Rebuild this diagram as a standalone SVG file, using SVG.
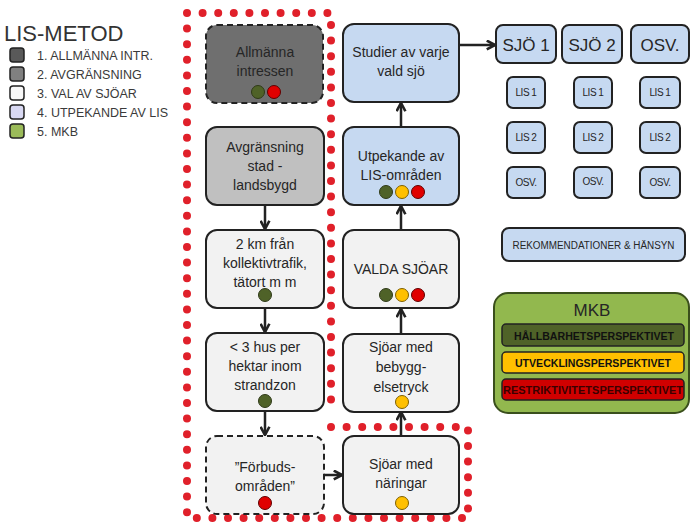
<svg xmlns="http://www.w3.org/2000/svg" width="691" height="522" viewBox="0 0 691 522">
<defs>
<style>
text{font-family:"Liberation Sans",Arial,sans-serif;fill:#262626}
.t{font-size:14px;text-anchor:middle}
.box{stroke:#222;stroke-width:2}
.dash{stroke-dasharray:6 4}
.blue{fill:#c6d9f1}
.light{fill:#f2f2f2}
.sm{font-size:10px;text-anchor:middle;letter-spacing:-0.5px}
.g{fill:#4f6228;stroke:#2f3a18;stroke-width:1}
.y{fill:#ffc000;stroke:#7f6000;stroke-width:1}
.r{fill:#e00000;stroke:#600000;stroke-width:1}
.conn{stroke:#222;stroke-width:2.5;fill:none;marker-end:url(#ah)}
.leg{font-size:12.5px;fill:#3a3a3a}
.lsq{stroke:#222;stroke-width:1.5}
.bar{font-size:11px;font-weight:bold;text-anchor:middle}
</style>
<marker id="ah" viewBox="0 0 10 10" refX="8.5" refY="5" markerWidth="4.4" markerHeight="4.4" orient="auto" markerUnits="strokeWidth">
<path d="M1,1 L8.5,5 L1,9" fill="none" stroke="#222" stroke-width="2.4"/>
</marker>
</defs>
<rect width="691" height="522" fill="#fff"/>

<g id="legend">
<text x="4" y="41" style="font-size:22px;fill:#333">LIS-METOD</text>
<rect class="lsq" x="10" y="48" width="14" height="14" rx="3" fill="#595959"/>
<text class="leg" x="37" y="60">1. ALLMÄNNA INTR.</text>
<rect class="lsq" x="10" y="67" width="14" height="14" rx="3" fill="#808080"/>
<text class="leg" x="37" y="79">2. AVGRÄNSNING</text>
<rect class="lsq" x="10" y="86" width="14" height="14" rx="3" fill="#f7f7f7"/>
<text class="leg" x="37" y="98">3. VAL AV SJÖAR</text>
<rect class="lsq" x="10" y="105" width="14" height="14" rx="3" fill="#d9d9f3"/>
<text class="leg" x="37" y="117">4. UTPEKANDE AV LIS</text>
<rect class="lsq" x="10" y="124" width="14" height="14" rx="3" fill="#9bbb59"/>
<text class="leg" x="37" y="136">5. MKB</text>
</g>

<g id="boundary" fill="none" stroke="#e0202a" stroke-width="8" stroke-linecap="round" stroke-dasharray="0 15.6">
<path d="M187,13 L331,13 L331,412"/>
<path d="M331,427 L468,427 L468,518 L187,518 L187,13"/>
</g>

<g id="connectors">
<line class="conn" x1="265" y1="205" x2="265" y2="229"/>
<line class="conn" x1="265" y1="308" x2="265" y2="332"/>
<line class="conn" x1="265" y1="411" x2="265" y2="435"/>
<line class="conn" x1="324" y1="475" x2="342" y2="475"/>
<line class="conn" x1="401" y1="436" x2="401" y2="412"/>
<line class="conn" x1="401" y1="334" x2="401" y2="309"/>
<line class="conn" x1="401" y1="230" x2="401" y2="206"/>
<line class="conn" x1="401" y1="127" x2="401" y2="103"/>
<line class="conn" x1="459" y1="45" x2="495" y2="45"/>
</g>

<g id="n-allmanna">
<rect class="box dash" x="206" y="25" width="117" height="78" rx="11" fill="#6f6f6f"/>
<text class="t" x="265" y="57">Allmänna</text>
<text class="t" x="265" y="76">intressen</text>
<circle class="g" cx="258" cy="92" r="6.5"/><circle class="r" cx="274" cy="92" r="6.5"/>
</g>
<g id="n-avgransning">
<rect class="box" x="206" y="127" width="118" height="78" rx="11" fill="#c0c0c0"/>
<text class="t" x="265" y="152">Avgränsning</text>
<text class="t" x="265" y="171">stad -</text>
<text class="t" x="265" y="190">landsbygd</text>
</g>
<g id="n-2km">
<rect class="box light" x="206" y="230" width="118" height="78" rx="11"/>
<text class="t" x="265" y="249">2 km från</text>
<text class="t" x="265" y="268">kollektivtrafik,</text>
<text class="t" x="265" y="287">tätort m m</text>
<circle class="g" cx="265" cy="295" r="6.5"/>
</g>
<g id="n-3hus">
<rect class="box light" x="206" y="333" width="118" height="78" rx="11"/>
<text class="t" x="265" y="352">&lt; 3 hus per</text>
<text class="t" x="265" y="371">hektar inom</text>
<text class="t" x="265" y="390">strandzon</text>
<circle class="g" cx="265" cy="401" r="6.5"/>
</g>
<g id="n-forbuds">
<rect class="box dash light" x="206" y="436" width="118" height="78" rx="11"/>
<text class="t" x="265" y="472">”Förbuds-</text>
<text class="t" x="265" y="491">områden”</text>
<circle class="r" cx="265" cy="503" r="6.5"/>
</g>

<g id="n-studier">
<rect class="box blue" x="343" y="24" width="116" height="78" rx="11"/>
<text class="t" x="401" y="57">Studier av varje</text>
<text class="t" x="401" y="76">vald sjö</text>
</g>
<g id="n-utpekande">
<rect class="box blue" x="343" y="127" width="116" height="78" rx="11"/>
<text class="t" x="401" y="161">Utpekande av</text>
<text class="t" x="401" y="180">LIS-områden</text>
<circle class="g" cx="386" cy="192" r="6.5"/><circle class="y" cx="402" cy="192" r="6.5"/><circle class="r" cx="418" cy="192" r="6.5"/>
</g>
<g id="n-valda">
<rect class="box light" x="343" y="230" width="116" height="78" rx="11"/>
<text class="t" x="401" y="274">VALDA SJÖAR</text>
<circle class="g" cx="386" cy="295" r="6.5"/><circle class="y" cx="402" cy="295" r="6.5"/><circle class="r" cx="418" cy="295" r="6.5"/>
</g>
<g id="n-bebygg">
<rect class="box light" x="343" y="334" width="116" height="78" rx="11"/>
<text class="t" x="401" y="352">Sjöar med</text>
<text class="t" x="401" y="372">bebygg-</text>
<text class="t" x="401" y="392">elsetryck</text>
<circle class="y" cx="402" cy="402" r="6.5"/>
</g>
<g id="n-naringar">
<rect class="box light" x="343" y="436" width="116" height="78" rx="11"/>
<text class="t" x="401" y="469">Sjöar med</text>
<text class="t" x="401" y="488">näringar</text>
<circle class="y" cx="402" cy="503" r="6.5"/>
</g>

<g id="n-sjo1"><rect class="box blue" x="496" y="25" width="60" height="38" rx="7"/><text x="526" y="51" style="font-size:17px;text-anchor:middle">SJÖ 1</text></g>
<g id="n-sjo2"><rect class="box blue" x="562" y="25" width="60" height="38" rx="7"/><text x="592" y="51" style="font-size:17px;text-anchor:middle">SJÖ 2</text></g>
<g id="n-osv"><rect class="box blue" x="631" y="25" width="58" height="38" rx="7"/><text x="660" y="51" style="font-size:17px;text-anchor:middle">OSV.</text></g>

<g id="n-lis1a"><rect class="box blue" x="507" y="77" width="38" height="31" rx="6"/><text class="sm" x="526" y="96">LIS 1</text></g>
<g id="n-lis1b"><rect class="box blue" x="574" y="77" width="38" height="31" rx="6"/><text class="sm" x="593" y="96">LIS 1</text></g>
<g id="n-lis1c"><rect class="box blue" x="640" y="77" width="40" height="31" rx="6"/><text class="sm" x="660" y="96">LIS 1</text></g>
<g id="n-lis2a"><rect class="box blue" x="507" y="122" width="38" height="31" rx="6"/><text class="sm" x="526" y="141">LIS 2</text></g>
<g id="n-lis2b"><rect class="box blue" x="574" y="122" width="38" height="31" rx="6"/><text class="sm" x="593" y="141">LIS 2</text></g>
<g id="n-lis2c"><rect class="box blue" x="640" y="122" width="40" height="31" rx="6"/><text class="sm" x="660" y="141">LIS 2</text></g>
<g id="n-osva"><rect class="box blue" x="507" y="167" width="38" height="31" rx="6"/><text class="sm" x="526" y="186">OSV.</text></g>
<g id="n-osvb"><rect class="box blue" x="574" y="167" width="38" height="31" rx="6"/><text class="sm" x="593" y="185">OSV.</text></g>
<g id="n-osvc"><rect class="box blue" x="640" y="167" width="40" height="31" rx="6"/><text class="sm" x="660" y="186">OSV.</text></g>

<g id="n-rekommendationer">
<rect class="box blue" x="502" y="228" width="183" height="33" rx="7"/>
<text x="593.5" y="248.5" style="font-size:10px;text-anchor:middle" textLength="162" lengthAdjust="spacingAndGlyphs">REKOMMENDATIONER &amp; HÄNSYN</text>
</g>

<g id="n-mkb">
<rect x="494" y="293" width="195" height="120" rx="14" fill="#92b84e" stroke="#3a4f1c" stroke-width="2"/>
<text x="592" y="316" style="font-size:17px;text-anchor:middle">MKB</text>
<rect x="502" y="324" width="182" height="22" rx="4" fill="#4f6228" stroke="#222" stroke-width="1.5"/>
<text class="bar" x="594" y="340" textLength="160" lengthAdjust="spacingAndGlyphs" style="fill:#111">HÅLLBARHETSPERSPEKTIVET</text>
<rect x="502" y="352" width="182" height="21" rx="4" fill="#ffc000" stroke="#222" stroke-width="1.5"/>
<text class="bar" x="593" y="367" textLength="156" lengthAdjust="spacingAndGlyphs" style="fill:#111">UTVECKLINGSPERSPEKTIVET</text>
<rect x="502" y="379" width="182" height="21" rx="4" fill="#d00000" stroke="#222" stroke-width="1.5"/>
<text class="bar" x="593" y="394" textLength="180" lengthAdjust="spacingAndGlyphs" style="fill:#3a0000">RESTRIKTIVITETSPERSPEKTIVET</text>
</g>
</svg>
